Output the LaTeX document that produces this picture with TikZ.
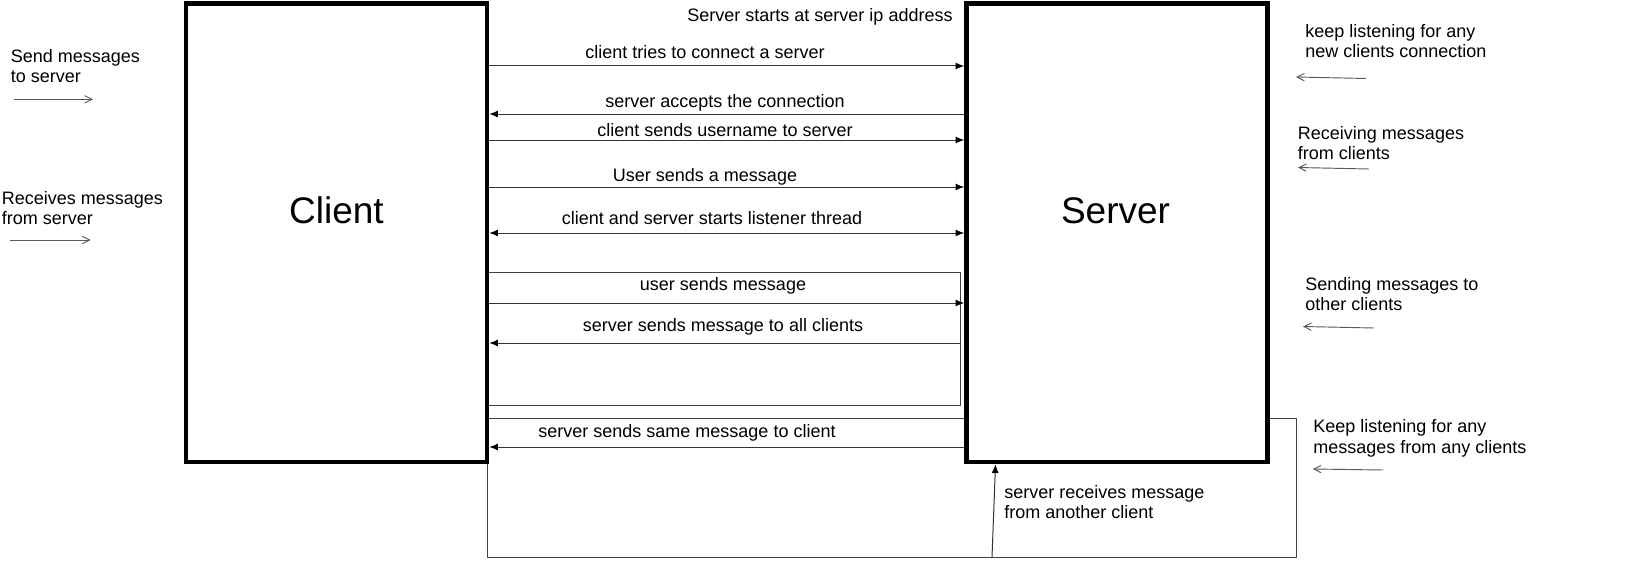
\documentclass[tikz,border=0pt]{standalone}
\usepackage{fontspec}
\setmainfont{Liberation Sans}
\usetikzlibrary{arrows.meta}
\begin{document}
\begin{tikzpicture}[x=0.75pt,y=-0.75pt,
  box/.style={draw=black, line width=3.4pt, fill=white, minimum width=225.75pt, minimum height=344pt, inner sep=0pt},
  big/.style={font=\fontsize{27.75}{33}\selectfont, inner sep=0pt, anchor=base},
  lbl/.style={font=\fontsize{13.5}{15.2}\selectfont, inner sep=0pt, anchor=base},
  note/.style={font=\fontsize{13.5}{15.2}\selectfont, inner sep=0pt, align=left, anchor=base west},
  msg/.style={draw=black!80, line width=0.75pt, -{Latex[length=6.5pt,width=5.2pt,color=black]}},
  dmsg/.style={draw=black!80, line width=0.75pt, {Latex[length=6.5pt,width=5.2pt,color=black]}-{Latex[length=6.5pt,width=5.2pt,color=black]}},
  loopline/.style={draw=black!75, line width=0.75pt},
  side/.style={draw=black!65, line width=0.7pt, -{Straight Barb[length=5.5pt,width=5.5pt]}}]
\useasboundingbox (0,0) rectangle (1630,560);

% loop frames (under the boxes)
\draw[loopline] (487,272) rectangle (960.5,405);
\draw[loopline] (487,418) rectangle (1296,557);

% boxes
\node[box] (client) at (336.5,232.65) {};
\node[box] (server) at (1117,232.65) {};
\node[big] (clientname) at (336.5,223.3) {Client};
\node[big] (servername) at (1115.5,223.3) {Server};

% top caption
\node[lbl] (start) at (820,22) {Server starts at server ip address};

% messages
\coordinate (y1) at (0,66);
\coordinate (y2) at (0,114);
\coordinate (y3) at (0,140);
\coordinate (y4) at (0,187);
\coordinate (y5) at (0,233);
\coordinate (y6) at (0,303);
\coordinate (y7) at (0,343);
\coordinate (y8) at (0,447);
\coordinate (loopR) at (960.5,343);

\draw[msg] (client.east |- y1) -- (server.west |- y1);
\node[lbl] (l1) at (705,59) {client tries to connect a server};
\draw[msg] (server.west |- y2) -- (client.east |- y2);
\node[lbl] (l2) at (725,108) {server accepts the connection};
\draw[msg] (client.east |- y3) -- (server.west |- y3);
\node[lbl] (l3) at (725,136) {client sends username to server};
\draw[msg] (client.east |- y4) -- (server.west |- y4);
\node[lbl] (l4) at (705,181) {User sends a message};
\draw[dmsg] (client.east |- y5) -- (server.west |- y5);
\node[lbl] (l5) at (712,224) {client and server starts listener thread};
\draw[msg] (client.east |- y6) -- (server.west |- y6);
\node[lbl] (l6) at (723,290) {user sends message};
\draw[msg] (loopR) -- (client.east |- loopR);
\node[lbl] (l7) at (723,331) {server sends message to all clients};
\draw[msg] (server.west |- y8) -- (client.east |- y8);
\node[lbl] (l8) at (687,437) {server sends same message to client};

% incoming from another client
\coordinate (loopbot) at (992,557);
\coordinate (recvx) at (995.5,0);
\draw[msg] (loopbot) -- (server.south -| recvx);
\node[note] (recv) at (1004,518.3) {server receives message\\from another client};

% left notes
\node[note] (sendnote) at (10.5,83) {Send messages\\to server};
\coordinate (sa1) at (14,99.3);
\coordinate (sa2) at (93,99.3);
\draw[side] (sa1) -- (sa2);
\node[note] (recvnote) at (1.7,224.3) {Receives messages\\from server};
\coordinate (ra1) at (10,240);
\coordinate (ra2) at (90.7,240);
\draw[side] (ra1) -- (ra2);

% right notes
\node[note] (n1) at (1305,58) {keep listening for any\\new clients connection};
\coordinate (n1a) at (1366,78.5);
\coordinate (n1b) at (1296,77);
\draw[side] (n1a) -- (n1b);
\node[note] (n2) at (1297.7,159.6) {Receiving messages\\from clients};
\coordinate (n2a) at (1369,169);
\coordinate (n2b) at (1298,167.5);
\draw[side] (n2a) -- (n2b);
\node[note] (n3) at (1305,310.3) {Sending messages to\\other clients};
\coordinate (n3a) at (1374,328);
\coordinate (n3b) at (1303,326.5);
\draw[side] (n3a) -- (n3b);
\node[note] (n4) at (1313,453) {Keep listening for any\\messages from any clients};
\coordinate (n4a) at (1383,470);
\coordinate (n4b) at (1312.7,469);
\draw[side] (n4a) -- (n4b);
\end{tikzpicture}
\end{document}
